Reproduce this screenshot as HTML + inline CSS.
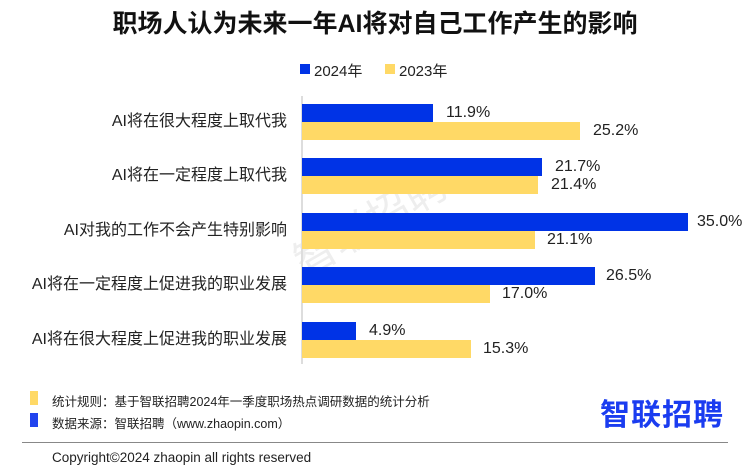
<!DOCTYPE html>
<html><head><meta charset="utf-8"><style>
body{margin:0;background:#fff;}
#c{position:relative;width:750px;height:472px;overflow:hidden;font-family:"Liberation Sans","Noto Sans CJK SC",sans-serif;color:#222;}
.a{position:absolute;white-space:nowrap;}
.bar{position:absolute;left:302px;height:18px;}
.b{background:#0033e6;}.y{background:#ffd966;}
.lab{position:absolute;right:463px;font-size:16px;line-height:18px;}
.v{position:absolute;font-size:16px;line-height:18px;}
</style></head><body><div id="c">
<div class="a" style="left:0;width:750px;text-align:center;top:4px;font-size:25px;font-weight:bold;color:#111;">职场人认为未来一年AI将对自己工作产生的影响</div>
<div class="a" style="left:300px;top:64px;width:10px;height:10px;background:#0033e6"></div>
<div class="a" style="left:314px;top:60px;font-size:15px;">2024年</div>
<div class="a" style="left:385px;top:64px;width:10px;height:10px;background:#ffd966"></div>
<div class="a" style="left:399px;top:60px;font-size:15px;">2023年</div>
<div class="a" style="left:285px;top:190px;font-size:42px;color:#eeeeee;transform:rotate(-30deg);">智联招聘</div>
<div class="a" style="left:301px;top:96px;width:2px;height:268px;background:#ddd"></div>

<div class="bar b" style="top:104px;width:131px"></div><div class="v" style="left:446px;top:104px">11.9%</div>
<div class="bar y" style="top:122px;width:278px"></div><div class="v" style="left:593px;top:122px">25.2%</div>
<div class="lab" style="top:113px">AI将在很大程度上取代我</div>

<div class="bar b" style="top:158px;width:240px"></div><div class="v" style="left:555px;top:158px">21.7%</div>
<div class="bar y" style="top:176px;width:236px"></div><div class="v" style="left:551px;top:176px">21.4%</div>
<div class="lab" style="top:167px">AI将在一定程度上取代我</div>

<div class="bar b" style="top:213px;width:386px"></div><div class="v" style="left:697px;top:213px">35.0%</div>
<div class="bar y" style="top:231px;width:233px"></div><div class="v" style="left:547px;top:231px">21.1%</div>
<div class="lab" style="top:222px">AI对我的工作不会产生特别影响</div>

<div class="bar b" style="top:267px;width:293px"></div><div class="v" style="left:606px;top:267px">26.5%</div>
<div class="bar y" style="top:285px;width:188px"></div><div class="v" style="left:502px;top:285px">17.0%</div>
<div class="lab" style="top:276px">AI将在一定程度上促进我的职业发展</div>

<div class="bar b" style="top:322px;width:54px"></div><div class="v" style="left:369px;top:322px">4.9%</div>
<div class="bar y" style="top:340px;width:169px"></div><div class="v" style="left:483px;top:340px">15.3%</div>
<div class="lab" style="top:331px">AI将在很大程度上促进我的职业发展</div>

<div class="a" style="left:30px;top:391px;width:8px;height:14px;background:#ffd966"></div>
<div class="a" style="left:52px;top:391px;font-size:12.5px;">统计规则：基于智联招聘2024年一季度职场热点调研数据的统计分析</div>
<div class="a" style="left:30px;top:413px;width:8px;height:14px;background:#2244ee"></div>
<div class="a" style="left:52px;top:413px;font-size:12.5px;">数据来源：智联招聘（www.zhaopin.com）</div>
<div class="a" style="left:600px;top:390px;font-size:30px;font-weight:bold;color:#1a3cf0;letter-spacing:1px;">智联招聘</div>
<div class="a" style="left:22px;top:442px;width:706px;height:1px;background:#888"></div>
<div class="a" style="left:52px;top:450px;font-size:13.5px;">Copyright©2024 zhaopin all rights reserved</div>
</div></body></html>
